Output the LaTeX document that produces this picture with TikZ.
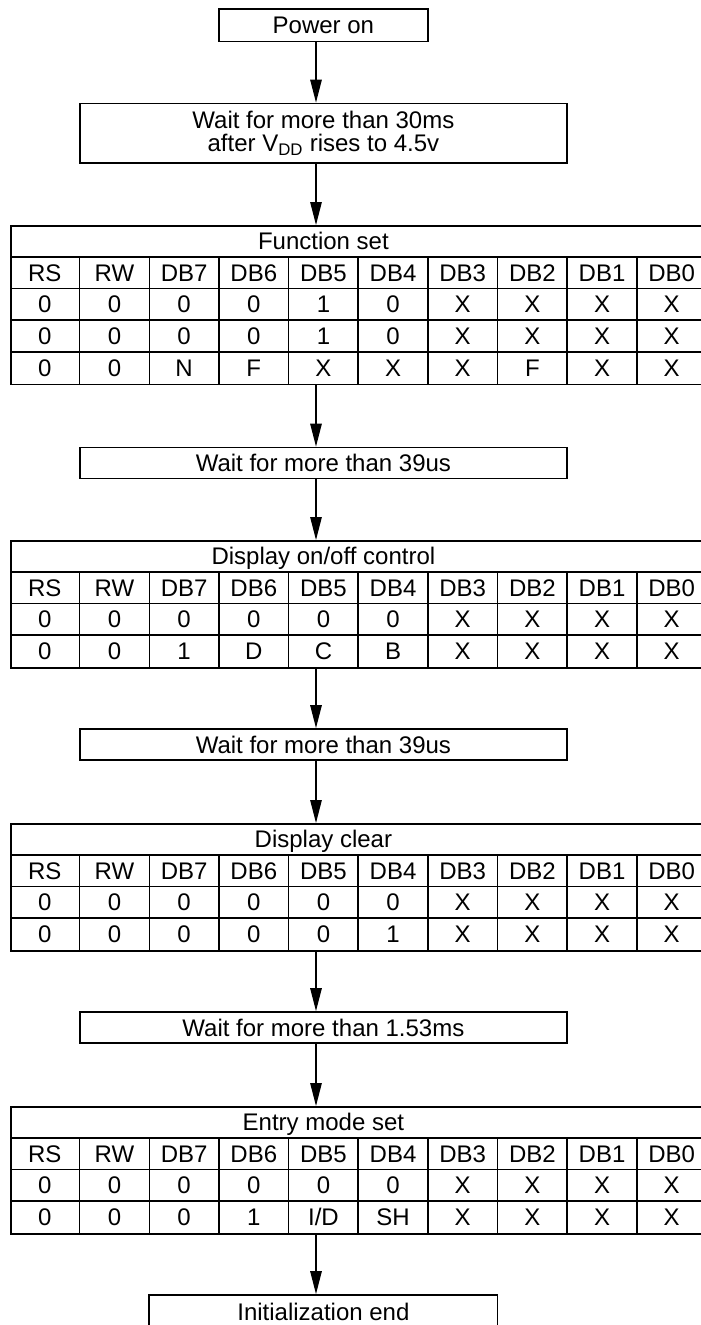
\documentclass[tikz,border=0pt]{standalone}
\usepackage{fontspec}
\setmainfont{Liberation Sans}
\usetikzlibrary{arrows.meta}
\newcommand{\rowh}{31.7}
\newcommand{\colw}{69.65}
\newcommand{\flowtable}[3]{%
  \node[tableframe, minimum height=#3*\rowh pt, anchor=north west] (#1) at (10,#2) {};
  \pgfmathtruncatemacro{\lastrow}{#3-1}
  \foreach \k in {1,...,\lastrow} \draw[gridline] (10,{#2+\k*\rowh}) -- (706.5,{#2+\k*\rowh});
  \foreach \c in {1,...,9} \draw[gridline] ({10+\c*\colw},{#2+\rowh}) -- ({10+\c*\colw},{#2+#3*\rowh});
}
\newcommand{\tablerow}[3]{%
  \foreach \v [count=\i from 0] in {#3} \node[tcell] (#1-\i) at ({10+\colw*(\i+0.5)},#2) {\v};
}
\begin{document}
\begin{tikzpicture}[x=1pt,y=-1pt,
  txt/.style={font=\fontsize{24}{23}\selectfont},
  boxline/.style={txt, draw=black, line width=1.8pt, inner sep=0pt, text height=17.1pt, text depth=0pt},
  tcell/.style={txt, inner sep=0pt, text height=17.1pt, text depth=0pt},
  tableframe/.style={draw=black, line width=1.8pt, inner sep=0pt, minimum width=696.5pt},
  gridline/.style={line width=1.6pt},
  flowarrow/.style={line width=1.3pt, -{Triangle[length=23pt,width=11.5pt]}}]
\useasboundingbox (0,0) rectangle (701,1325);
\coordinate (ax) at (316,0);

% Power on
\node[boxline, minimum width=208.95pt, minimum height=32.5pt] (pwr) at (323.4,25.25) {Power on};

% Wait 30ms
\node[txt, draw=black, line width=1.8pt, inner sep=0pt, align=center, minimum width=487.55pt, minimum height=59.5pt] (wait1) at (323.4,133.25) {Wait for more than 30ms\\after V\textsubscript{DD} rises to 4.5v};

% Function set
\flowtable{fs}{225}{5}
\node[tcell] (fs-title) at (323.4,{225+0.5*\rowh}) {Function set};
\tablerow{fsh}{225+1.5*\rowh}{RS,RW,DB7,DB6,DB5,DB4,DB3,DB2,DB1,DB0}
\tablerow{fsa}{225+2.5*\rowh}{0,0,0,0,1,0,X,X,X,X}
\tablerow{fsb}{225+3.5*\rowh}{0,0,0,0,1,0,X,X,X,X}
\tablerow{fsc}{225+4.5*\rowh}{0,0,N,F,X,X,X,F,X,X}

% Wait 39us
\node[boxline, minimum width=487.55pt, minimum height=31pt] (w2) at (323.4,463) {Wait for more than 39us};

% Display on/off control
\flowtable{doc}{540}{4}
\node[tcell] (doc-title) at (323.4,{540+0.5*\rowh}) {Display on/off control};
\tablerow{doch}{540+1.5*\rowh}{RS,RW,DB7,DB6,DB5,DB4,DB3,DB2,DB1,DB0}
\tablerow{doca}{540+2.5*\rowh}{0,0,0,0,0,0,X,X,X,X}
\tablerow{docb}{540+3.5*\rowh}{0,0,1,D,C,B,X,X,X,X}

% Wait 39us
\node[boxline, minimum width=487.55pt, minimum height=31pt] (w3) at (323.4,744.5) {Wait for more than 39us};

% Display clear
\flowtable{dc}{823}{4}
\node[tcell] (dc-title) at (323.4,{823+0.5*\rowh}) {Display clear};
\tablerow{dch}{823+1.5*\rowh}{RS,RW,DB7,DB6,DB5,DB4,DB3,DB2,DB1,DB0}
\tablerow{dca}{823+2.5*\rowh}{0,0,0,0,0,0,X,X,X,X}
\tablerow{dcb}{823+3.5*\rowh}{0,0,0,0,0,1,X,X,X,X}

% Wait 1.53ms
\node[boxline, minimum width=487.55pt, minimum height=31pt] (w4) at (323.4,1027.5) {Wait for more than 1.53ms};

% Entry mode set
\flowtable{em}{1106}{4}
\node[tcell] (em-title) at (323.4,{1106+0.5*\rowh}) {Entry mode set};
\tablerow{emh}{1106+1.5*\rowh}{RS,RW,DB7,DB6,DB5,DB4,DB3,DB2,DB1,DB0}
\tablerow{ema}{1106+2.5*\rowh}{0,0,0,0,0,0,X,X,X,X}
\tablerow{emb}{1106+3.5*\rowh}{0,0,0,1,I/D,SH,X,X,X,X}

% Initialization end
\node[boxline, minimum width=348.25pt, minimum height=33pt] (iend) at (323.4,1311.5) {Initialization end};

% arrows
\draw[flowarrow] (pwr.south -| ax) -- (wait1.north -| ax);
\draw[flowarrow] (wait1.south -| ax) -- (fs.north -| ax);
\draw[flowarrow] (fs.south -| ax) -- (w2.north -| ax);
\draw[flowarrow] (w2.south -| ax) -- (doc.north -| ax);
\draw[flowarrow] (doc.south -| ax) -- (w3.north -| ax);
\draw[flowarrow] (w3.south -| ax) -- (dc.north -| ax);
\draw[flowarrow] (dc.south -| ax) -- (w4.north -| ax);
\draw[flowarrow] (w4.south -| ax) -- (em.north -| ax);
\draw[flowarrow] (em.south -| ax) -- (iend.north -| ax);
\end{tikzpicture}
\end{document}
